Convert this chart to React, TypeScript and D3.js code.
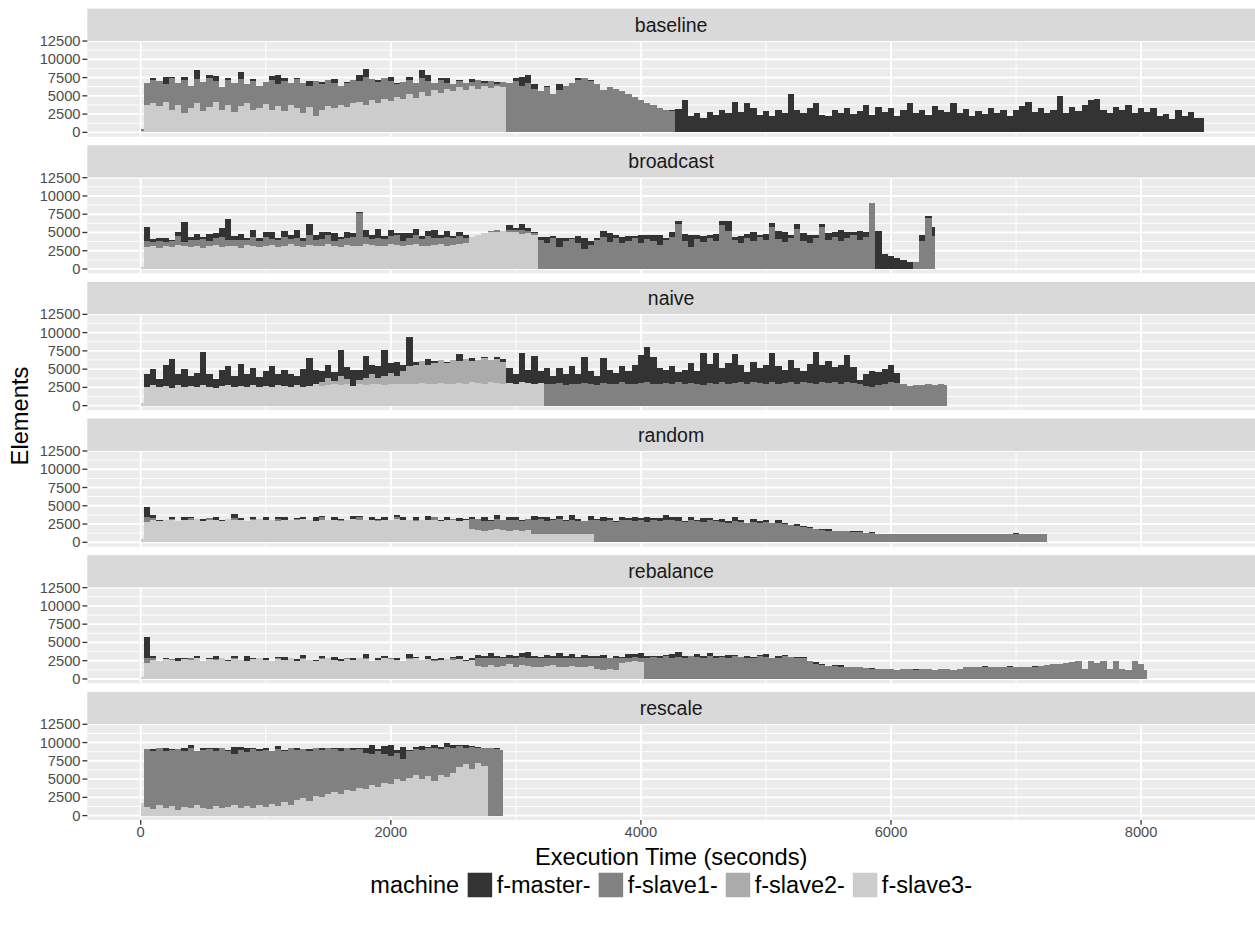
import React, { useMemo } from "react";
import * as d3 from "d3";

const WIDTH = 1255;
const HEIGHT = 925;
const FONT = '"Liberation Sans", Arial, Helvetica, sans-serif';

const machines = ["f-master-", "f-slave1-", "f-slave2-", "f-slave3-"];
const machineFills = ["#333333", "#818181", "#ABABAB", "#CCCCCC"];
const facetNames = ["baseline", "broadcast", "naive", "random", "rebalance", "rescale"];
const xTicks = [0, 2000, 4000, 6000, 8000];
const yTicks = [0, 2500, 5000, 7500, 10000, 12500];
const xTitle = "Execution Time (seconds)";
const yTitle = "Elements";
const legendTitle = "machine";

// Samples are taken every SAMPLE_STEP seconds; values are in hundreds of elements.
const SAMPLE_STEP = 50;
const VALUE_UNIT = 100;

// ---- baseline ----
const baselineSlave3 = [
  2, 38, 40, 36, 42, 30, 38, 27, 33, 40,
  29, 35, 42, 31, 38, 28, 36, 40, 30, 34,
  39, 31, 36, 29, 37, 33, 27, 35, 22, 30,
  36, 33, 38, 35, 40, 42, 38, 44, 40, 46,
  43, 48, 45, 52, 47, 55, 50, 58, 54, 60,
  57, 62, 58, 63, 60, 64, 61, 63, 62,
];
const baselineSlave1 = [
  3, 30, 32, 34, 24, 44, 30, 44, 31, 33,
  40, 40, 28, 31, 34, 40, 37, 26, 40, 30,
  30, 41, 30, 41, 30, 40, 41, 29, 48, 36,
  35, 35, 25, 32, 32, 28, 38, 29, 29, 28,
  27, 18, 24, 20, 21, 20, 20, 9, 17, 8,
  9, 8, 9, 6, 11, 4, 9, 3, 7, 67,
  70, 64, 68, 60, 56, 62, 52, 58, 64, 68,
  72, 74, 70, 66, 58, 62, 60, 56, 52, 48,
  44, 40, 37, 34, 31, 29,
];
const baselineMaster = [
  0, 0, 3, 0, 10, 2, 0, 5, 0, 12,
  0, 4, 7, 0, 2, 0, 9, 0, 3, 0,
  0, 5, 12, 4, 0, 2, 0, 6, 0, 3,
  0, 5, 0, 2, 0, 8, 11, 0, 3, 0,
  6, 2, 0, 4, 0, 10, 8, 0, 3, 7,
  0, 2, 0, 4, 0, 2, 0, 3, 0, 0,
  4, 12, 10, 6, 0, 2, 0, 8, 0, 0,
  3, 0, 2, 0, 0, 0, 0, 0, 0, 0,
  0, 0, 0, 0, 0, 2, 32, 44, 22, 26,
  20, 28, 24, 30, 26, 42, 28, 40, 34, 24,
  29, 22, 31, 27, 52, 30, 26, 33, 40, 24,
  22, 30, 27, 34, 25, 29, 38, 24, 35, 28,
  33, 22, 30, 40, 26, 31, 24, 36, 30, 28,
  40, 26, 32, 23, 29, 25, 34, 27, 31, 22,
  30, 36, 42, 28, 34, 26, 30, 50, 27, 35,
  29, 38, 44, 45, 30, 26, 35, 30, 38, 26,
  33, 28, 34, 22, 25, 18, 30, 22, 28, 20,
  19,
];

// ---- broadcast ----
const broadcastSlave3 = [
  3, 30, 31, 29, 32, 30, 33, 31, 30, 32,
  29, 31, 33, 30, 32, 31, 29, 33, 32, 30,
  31, 33, 30, 32, 34, 31, 30, 33, 32, 31,
  34, 32, 30, 33, 31, 32, 34, 33, 31, 32,
  34, 33, 31, 33, 34, 32, 31, 33, 34, 32,
  33, 34, 36, 44, 47, 49, 50, 51, 52, 50,
  51, 48, 49, 47,
];
const broadcastSlave1 = [
  0, 8, 6, 10, 5, 8, 12, 6, 10, 8,
  12, 7, 10, 14, 8, 9, 11, 7, 12, 9,
  13, 8, 10, 12, 7, 11, 9, 14, 8, 10,
  12, 7, 11, 9, 13, 44, 10, 8, 12, 9,
  11, 13, 8, 10, 12, 9, 14, 10, 8, 12,
  9, 11, 6, 0, 0, 0, 2, 3, 0, 4,
  2, 5, 3, 2, 40, 36, 42, 30, 38, 41,
  35, 28, 33, 40, 44, 37, 42, 35, 39, 43,
  36, 41, 38, 33, 40, 44, 62, 38, 30, 41,
  37, 43, 39, 60, 52, 40, 35, 42, 38, 44,
  40, 58, 41, 37, 43, 55, 39, 35, 42, 58,
  40, 44, 38, 42, 46, 40, 44, 90, 0, 0,
  0, 0, 0, 0, 9, 38, 70, 45,
];
const broadcastMaster = [
  0, 19, 4, 3, 6, 2, 5, 28, 4, 8,
  3, 10, 6, 12, 28, 5, 8, 3, 9, 4,
  7, 10, 3, 8, 5, 12, 4, 15, 6, 9,
  4, 10, 3, 8, 5, 2, 9, 6, 12, 4,
  8, 3, 10, 6, 9, 4, 7, 11, 5, 8,
  3, 6, 4, 0, 0, 0, 0, 0, 0, 6,
  3, 8, 4, 2, 4, 8, 3, 12, 5, 2,
  10, 15, 6, 3, 8, 12, 4, 9, 6, 2,
  11, 5, 8, 14, 3, 6, 4, 10, 16, 5,
  8, 3, 9, 6, 14, 4, 10, 6, 12, 3,
  8, 5, 11, 14, 4, 7, 10, 12, 5, 3,
  9, 6, 15, 8, 5, 12, 7, 0, 52, 21,
  18, 15, 12, 9, 0, 8, 2, 12,
];

// ---- naive ----
const naiveSlave3 = [
  3, 26, 28, 25, 27, 24, 28, 26, 27, 25,
  28, 26, 24, 27, 28, 25, 27, 26, 28, 25,
  27, 26, 28, 27, 25, 28, 26, 27, 29, 27,
  28, 30, 28, 29, 27, 30, 28, 29, 30, 28,
  29, 30, 29, 30, 29, 31, 30, 29, 31, 30,
  29, 31, 30, 32, 31, 30, 32, 31, 30, 31,
  30, 32, 31, 30, 31,
];
const naiveSlave2 = [
  6, 10, 4, 12, 8, 0, 5, 10, 14, 8,
  12, 16, 10, 18, 24, 27, 30, 26, 29, 31,
  28, 33, 30, 34, 29, 32, 35, 31, 33, 30,
];
const naiveSlave1 = [
  30, 29, 31, 28, 30, 29, 31, 30, 28, 31,
  29, 30, 32, 29, 30, 31, 32, 30, 29, 31,
  30, 32, 29, 31, 30, 28, 31, 30, 32, 29,
  31, 33, 30, 32, 31, 29, 32, 30, 31, 33,
  30, 32, 31, 29, 32, 31, 33, 30, 32, 31,
  29, 27, 25, 28, 30, 32, 31, 29, 27, 28,
  28, 29, 28, 29, 28,
];
const naiveMaster = [
  0, 18, 22, 12, 28, 40, 16, 24, 14, 20,
  46, 18, 12, 22, 26, 15, 30, 18, 24, 14,
  20, 28, 16, 22, 18, 12, 24, 38, 20, 14,
  18, 12, 36, 16, 22, 14, 30, 12, 16, 36,
  14, 20, 8, 40, 4, 0, 8, 3, 0, 2,
  0, 10, 0, 4, 0, 2, 0, 3, 4, 20,
  14, 40, 18, 38, 16, 22, 12, 20, 16, 24,
  14, 36, 18, 12, 34, 20, 15, 22, 18, 26,
  38, 48, 36, 22, 18, 24, 14, 20, 28, 18,
  44, 26, 42, 20, 30, 40, 22, 16, 28, 20,
  26, 40, 24, 18, 30, 22, 16, 26, 44, 24,
  30, 20, 26, 38, 22, 6, 16, 22, 18, 20,
  24, 14,
];

// ---- random ----
const randomSlave3 = [
  4, 28, 30, 29, 31, 30, 29, 31, 30, 32,
  29, 31, 30, 29, 32, 30, 31, 29, 30, 32,
  30, 31, 29, 30, 31, 30, 32, 30, 29, 31,
  30, 31, 29, 30, 32, 30, 31, 30, 29, 31,
  30, 32, 30, 31, 29, 30, 31, 30, 29, 31,
  30, 29, 30, 18, 17, 16, 17, 18, 17, 16,
  17, 16, 17, 12, 12, 11, 12, 12, 11, 12,
  12, 11, 12,
];
const randomSlave1 = [
  0, 6, 3, 0, 0, 2, 0, 0, 3, 0,
  0, 2, 0, 0, 0, 3, 0, 0, 2, 0,
  0, 0, 3, 0, 0, 2, 0, 0, 0, 3,
  0, 0, 2, 0, 0, 4, 0, 0, 2, 0,
  0, 3, 0, 0, 2, 0, 0, 4, 0, 0,
  2, 0, 0, 14, 15, 13, 12, 14, 13, 15,
  14, 13, 15, 19, 20, 18, 19, 20, 18, 19,
  17, 18, 19, 30, 29, 30, 28, 30, 31, 29,
  30, 28, 31, 29, 30, 31, 29, 28, 30, 29,
  28, 30, 29, 28, 27, 29, 28, 27, 28, 27,
  28, 26, 27, 25, 24, 22, 21, 19, 18, 17,
  16, 16, 15, 15, 14, 14, 13, 13, 12, 12,
  11, 11, 12, 11, 11, 12, 11, 11, 12, 11,
  11, 12, 11, 11, 12, 11, 11, 12, 11, 11,
  12, 11, 11, 12, 11, 12,
];
const randomMaster = [
  0, 14, 5, 2, 0, 3, 0, 4, 1, 0,
  3, 0, 5, 1, 0, 6, 2, 0, 3, 0,
  4, 0, 2, 5, 0, 1, 3, 0, 6, 2,
  0, 3, 1, 0, 4, 2, 0, 5, 1, 3,
  0, 2, 4, 0, 3, 1, 5, 0, 2, 3,
  0, 4, 2, 3, 0, 5, 2, 6, 1, 3,
  4, 2, 0, 5, 3, 6, 1, 4, 2, 7,
  3, 0, 5, 2, 6, 3, 1, 4, 2, 5,
  3, 6, 2, 4, 7, 3, 5, 1, 4, 2,
  5, 3, 1, 4, 2, 6, 3, 0, 4, 2,
  3, 1, 4, 2, 0, 3, 1, 2, 0, 1,
  2, 0, 1, 0, 2, 1, 0, 1, 0, 0,
  1, 0, 0, 1, 0, 0, 1, 0, 0, 1,
  0, 0, 1, 0, 0, 0, 1, 0, 0, 0,
  1, 0, 0, 0, 0, 0,
];

// ---- rebalance ----
const rebalanceSlave3 = [
  3, 22, 26, 25, 27, 26, 25, 27, 26, 28,
  25, 27, 26, 28, 25, 27, 26, 25, 27, 28,
  26, 25, 27, 26, 28, 25, 27, 26, 25, 27,
  28, 26, 25, 27, 26, 28, 27, 25, 26, 28,
  27, 26, 25, 27, 28, 26, 27, 25, 26, 27,
  26, 27, 25, 26, 18, 17, 19, 16, 18, 20,
  17, 19, 18, 16, 17, 18, 19, 17, 16, 18,
  17, 16, 18, 13, 12, 13, 12, 22, 23, 24,
  23,
];
const rebalanceSlave1 = [
  0, 6, 2, 0, 0, 1, 0, 0, 2, 0,
  0, 0, 1, 0, 0, 2, 0, 0, 0, 1,
  0, 0, 2, 0, 0, 0, 1, 0, 0, 2,
  0, 0, 0, 1, 0, 0, 2, 0, 0, 0,
  1, 0, 0, 2, 0, 0, 0, 1, 0, 0,
  2, 0, 0, 0, 11, 12, 10, 13, 11, 9,
  12, 11, 10, 13, 12, 11, 10, 12, 13, 11,
  12, 13, 11, 15, 16, 15, 16, 6, 5, 6,
  5, 29, 30, 28, 31, 29, 30, 28, 31, 30,
  29, 31, 28, 30, 29, 31, 30, 28, 29, 31,
  30, 28, 29, 31, 30, 28, 29, 25, 21, 19,
  18, 18, 17, 17, 16, 16, 15, 14, 13, 13,
  13, 12, 13, 13, 12, 13, 13, 12, 13, 13,
  12, 14, 16, 17, 16, 16, 17, 16, 16, 17,
  16, 17, 16, 17, 18, 19, 20, 21, 22, 23,
  24, 13, 24, 22, 24, 14, 24, 13, 12, 24,
  20, 12,
];
const rebalanceMaster = [
  0, 30, 4, 0, 2, 0, 3, 1, 0, 4,
  0, 2, 5, 0, 1, 3, 0, 6, 2, 0,
  3, 0, 1, 4, 0, 2, 5, 0, 1, 3,
  0, 4, 2, 0, 3, 1, 5, 0, 2, 4,
  1, 3, 0, 5, 2, 0, 4, 1, 3, 0,
  2, 5, 1, 3, 4, 2, 6, 3, 1, 4,
  2, 5, 9, 3, 1, 4, 2, 6, 3, 5,
  1, 4, 2, 3, 5, 1, 3, 2, 6, 4,
  8, 3, 1, 4, 2, 5, 7, 3, 1, 4,
  2, 5, 3, 1, 4, 2, 0, 3, 1, 2,
  4, 1, 3, 2, 0, 2, 1, 0, 2, 1,
  0, 1, 2, 0, 1, 0, 0, 1, 0, 0,
  1, 0, 0, 0, 1, 0, 0, 0, 1, 0,
  0, 0, 1, 0, 0, 2, 0, 0, 0, 1,
  0, 0, 0, 1, 0, 0, 0, 0, 0, 0,
  0, 0, 1, 0, 0, 0, 0, 0, 0, 0,
  1, 0,
];

// ---- rescale ----
const rescaleSlave3 = [
  17, 12, 9, 14, 10, 13, 8, 12, 10, 14,
  11, 9, 13, 10, 12, 15, 11, 13, 10, 14,
  12, 16, 13, 18, 15, 21, 24, 20, 27, 25,
  29, 32, 30, 35, 33, 38, 36, 42, 39, 45,
  43, 50, 47, 52, 55, 50, 54, 48, 56, 53,
  58, 66, 70, 64, 72, 68,
];
const rescaleSlave1 = [
  0, 79, 80, 78, 78, 77, 83, 77, 82, 74,
  79, 82, 76, 82, 76, 69, 79, 74, 81, 74,
  78, 73, 78, 70, 77, 69, 67, 69, 65, 65,
  64, 59, 59, 57, 57, 53, 50, 42, 49, 40,
  39, 36, 31, 36, 36, 40, 38, 45, 35, 41,
  34, 29, 23, 30, 20, 25, 92, 91, 90,
];
const rescaleMaster = [
  0, 0, 2, 0, 4, 1, 0, 3, 5, 0,
  2, 1, 3, 0, 2, 10, 4, 6, 1, 3,
  2, 0, 4, 2, 1, 3, 0, 2, 1, 3,
  0, 2, 4, 1, 3, 2, 6, 12, 3, 10,
  14, 4, 16, 2, 3, 5, 2, 4, 3, 6,
  4, 2, 3, 1, 2, 0, 0, 2, 0,
];

type Series = { machine: string; start: number; values: number[] };

// Each facet lists its machine series with the time (s) of their first sample.
const facetSeries: Record<string, Series[]> = {
  baseline: [
    { machine: "f-slave3-", start: 0, values: baselineSlave3 },
    { machine: "f-slave1-", start: 0, values: baselineSlave1 },
    { machine: "f-master-", start: 0, values: baselineMaster },
  ],
  broadcast: [
    { machine: "f-slave3-", start: 0, values: broadcastSlave3 },
    { machine: "f-slave1-", start: 0, values: broadcastSlave1 },
    { machine: "f-master-", start: 0, values: broadcastMaster },
  ],
  naive: [
    { machine: "f-slave3-", start: 0, values: naiveSlave3 },
    { machine: "f-slave2-", start: 1450, values: naiveSlave2 },
    { machine: "f-slave1-", start: 3250, values: naiveSlave1 },
    { machine: "f-master-", start: 0, values: naiveMaster },
  ],
  random: [
    { machine: "f-slave3-", start: 0, values: randomSlave3 },
    { machine: "f-slave1-", start: 0, values: randomSlave1 },
    { machine: "f-master-", start: 0, values: randomMaster },
  ],
  rebalance: [
    { machine: "f-slave3-", start: 0, values: rebalanceSlave3 },
    { machine: "f-slave1-", start: 0, values: rebalanceSlave1 },
    { machine: "f-master-", start: 0, values: rebalanceMaster },
  ],
  rescale: [
    { machine: "f-slave3-", start: 0, values: rescaleSlave3 },
    { machine: "f-slave1-", start: 0, values: rescaleSlave1 },
    { machine: "f-master-", start: 0, values: rescaleMaster },
  ],
};

// ---- layout ----
const PANEL_LEFT = 87.3;
const PANEL_RIGHT = WIDTH;
const FIRST_STRIP_TOP = 8.6;
const FACET_PITCH = 136.65;
const STRIP_H = 32.4;
const PANEL_H = 95.7;
const CENTER_X = (PANEL_LEFT + PANEL_RIGHT) / 2;

const AXIS_TEXT = 14.7;
const STRIP_TEXT = 19.5;
const TITLE_TEXT = 23.7;
const LEGEND_TEXT = 23.5;

const stackKeys = ["f-slave3-", "f-slave2-", "f-slave1-", "f-master-"];
const fillOf = d3.scaleOrdinal<string, string>().domain(machines).range(machineFills);

const x = d3.scaleLinear().domain([-427, 8911]).range([PANEL_LEFT, PANEL_RIGHT]);

function minorTicks(ticks: number[]) {
  const step = ticks[1] - ticks[0];
  const out: number[] = [];
  for (let i = -1; i < ticks.length; i++) out.push(ticks[0] + (i + 0.5) * step);
  return out;
}

function buildRows(series: Series[]) {
  const n = d3.max(series, (s) => s.start / SAMPLE_STEP + s.values.length) as number;
  const rows = d3.range(n).map((i) => {
    const row: Record<string, number> = { t: i * SAMPLE_STEP };
    machines.forEach((m) => (row[m] = 0));
    return row;
  });
  series.forEach((s) => {
    const offset = s.start / SAMPLE_STEP;
    s.values.forEach((v, j) => {
      rows[offset + j][s.machine] = v * VALUE_UNIT;
    });
  });
  return rows;
}

function measure(text: string, size: number) {
  if (typeof document !== "undefined") {
    const ctx = document.createElement("canvas").getContext("2d");
    if (ctx) {
      ctx.font = `${size}px ${FONT}`;
      return ctx.measureText(text).width;
    }
  }
  return text.length * size * 0.5;
}

function Facet({ name, index }: { name: string; index: number }) {
  const stripTop = FIRST_STRIP_TOP + index * FACET_PITCH;
  const panelTop = stripTop + STRIP_H;
  const panelBottom = panelTop + PANEL_H;
  const y = d3.scaleLinear().domain([-595, 12505]).range([panelBottom, panelTop]);

  const layers = useMemo(() => {
    const rows = buildRows(facetSeries[name]);
    return d3.stack<Record<string, number>>().keys(stackKeys)(rows);
  }, [name]);

  const area = d3
    .area<d3.SeriesPoint<Record<string, number>>>()
    .x((d) => x(d.data.t))
    .y0((d) => y(d[0]))
    .y1((d) => y(d[1]))
    .curve(d3.curveStep);

  const xMinor = minorTicks(xTicks).filter((v) => x(v) > PANEL_LEFT && x(v) < PANEL_RIGHT);
  const yMinor = minorTicks(yTicks).filter((v) => y(v) < panelBottom && y(v) > panelTop);
  const clipId = `clip-${name}`;

  return (
    <g>
      <rect x={PANEL_LEFT} y={stripTop} width={PANEL_RIGHT - PANEL_LEFT} height={STRIP_H} fill="#D9D9D9" />
      <text
        x={CENTER_X}
        y={stripTop + STRIP_H / 2}
        textAnchor="middle"
        dominantBaseline="central"
        fontSize={STRIP_TEXT}
        fill="#1A1A1A"
      >
        {name}
      </text>
      <rect x={PANEL_LEFT} y={panelTop} width={PANEL_RIGHT - PANEL_LEFT} height={PANEL_H} fill="#EBEBEB" />
      <clipPath id={clipId}>
        <rect x={PANEL_LEFT} y={panelTop} width={PANEL_RIGHT - PANEL_LEFT} height={PANEL_H} />
      </clipPath>
      <g clipPath={`url(#${clipId})`}>
        {yMinor.map((v) => (
          <line key={`ym${v}`} x1={PANEL_LEFT} x2={PANEL_RIGHT} y1={y(v)} y2={y(v)} stroke="#FFFFFF" strokeWidth={0.95} />
        ))}
        {xMinor.map((v) => (
          <line key={`xm${v}`} x1={x(v)} x2={x(v)} y1={panelTop} y2={panelBottom} stroke="#FFFFFF" strokeWidth={0.95} />
        ))}
        {yTicks.map((v) => (
          <line key={`yM${v}`} x1={PANEL_LEFT} x2={PANEL_RIGHT} y1={y(v)} y2={y(v)} stroke="#FFFFFF" strokeWidth={1.9} />
        ))}
        {xTicks.map((v) => (
          <line key={`xM${v}`} x1={x(v)} x2={x(v)} y1={panelTop} y2={panelBottom} stroke="#FFFFFF" strokeWidth={1.9} />
        ))}
        {layers.map((layer) => (
          <path key={layer.key} d={area(layer) || ""} fill={fillOf(layer.key)} shapeRendering="crispEdges" />
        ))}
      </g>
      {yTicks.map((v) => (
        <g key={`yt${v}`}>
          <line x1={PANEL_LEFT - 4.9} x2={PANEL_LEFT} y1={y(v)} y2={y(v)} stroke="#333333" strokeWidth={1.3} />
          <text
            x={PANEL_LEFT - 6.8}
            y={y(v)}
            textAnchor="end"
            dominantBaseline="central"
            fontSize={AXIS_TEXT}
            fill="#4D4D4D"
          >
            {v}
          </text>
        </g>
      ))}
    </g>
  );
}

export default function App() {
  const lastPanelBottom = FIRST_STRIP_TOP + (facetNames.length - 1) * FACET_PITCH + STRIP_H + PANEL_H;

  const legend = useMemo(() => {
    const keySize = 24.5;
    const titleGap = 8.5;
    const keyTextGap = 4.5;
    const itemGap = 8;
    const titleW = measure(legendTitle, LEGEND_TEXT);
    const labelW = machines.map((m) => measure(m, LEGEND_TEXT));
    const total = titleW + titleGap + d3.sum(labelW) + machines.length * (keySize + keyTextGap) + (machines.length - 1) * itemGap;
    let cursor = CENTER_X - total / 2;
    const titleX = cursor;
    cursor += titleW + titleGap;
    const items = machines.map((m, i) => {
      const keyX = cursor;
      const textX = keyX + keySize + keyTextGap;
      cursor = textX + labelW[i] + itemGap;
      return { m, keyX, textX };
    });
    return { keySize, titleX, items };
  }, []);

  const legendY = 885;

  return (
    <svg
      width={WIDTH}
      height={HEIGHT}
      viewBox={`0 0 ${WIDTH} ${HEIGHT}`}
      style={{ position: "absolute", left: 0, top: 0, background: "#FFFFFF" }}
      fontFamily={FONT}
    >
      <rect width={WIDTH} height={HEIGHT} fill="#FFFFFF" />
      {facetNames.map((name, i) => (
        <Facet key={name} name={name} index={i} />
      ))}
      {xTicks.map((v) => (
        <g key={`xt${v}`}>
          <line x1={x(v)} x2={x(v)} y1={lastPanelBottom} y2={lastPanelBottom + 4.9} stroke="#333333" strokeWidth={1.3} />
          <text
            x={x(v)}
            y={lastPanelBottom + 12.5}
            textAnchor="middle"
            dominantBaseline="central"
            fontSize={AXIS_TEXT}
            fill="#4D4D4D"
          >
            {v}
          </text>
        </g>
      ))}
      <text x={CENTER_X} y={857} textAnchor="middle" dominantBaseline="central" fontSize={TITLE_TEXT} fill="#000000">
        {xTitle}
      </text>
      <text
        transform={`translate(20, 416) rotate(-90)`}
        textAnchor="middle"
        dominantBaseline="central"
        fontSize={TITLE_TEXT}
        fill="#000000"
      >
        {yTitle}
      </text>
      <g>
        <text x={legend.titleX} y={legendY} dominantBaseline="central" fontSize={LEGEND_TEXT} fill="#000000">
          {legendTitle}
        </text>
        {legend.items.map(({ m, keyX, textX }) => (
          <g key={m}>
            <rect x={keyX} y={legendY - legend.keySize / 2} width={legend.keySize} height={legend.keySize} fill={fillOf(m)} />
            <text x={textX} y={legendY} dominantBaseline="central" fontSize={LEGEND_TEXT} fill="#000000">
              {m}
            </text>
          </g>
        ))}
      </g>
    </svg>
  );
}
